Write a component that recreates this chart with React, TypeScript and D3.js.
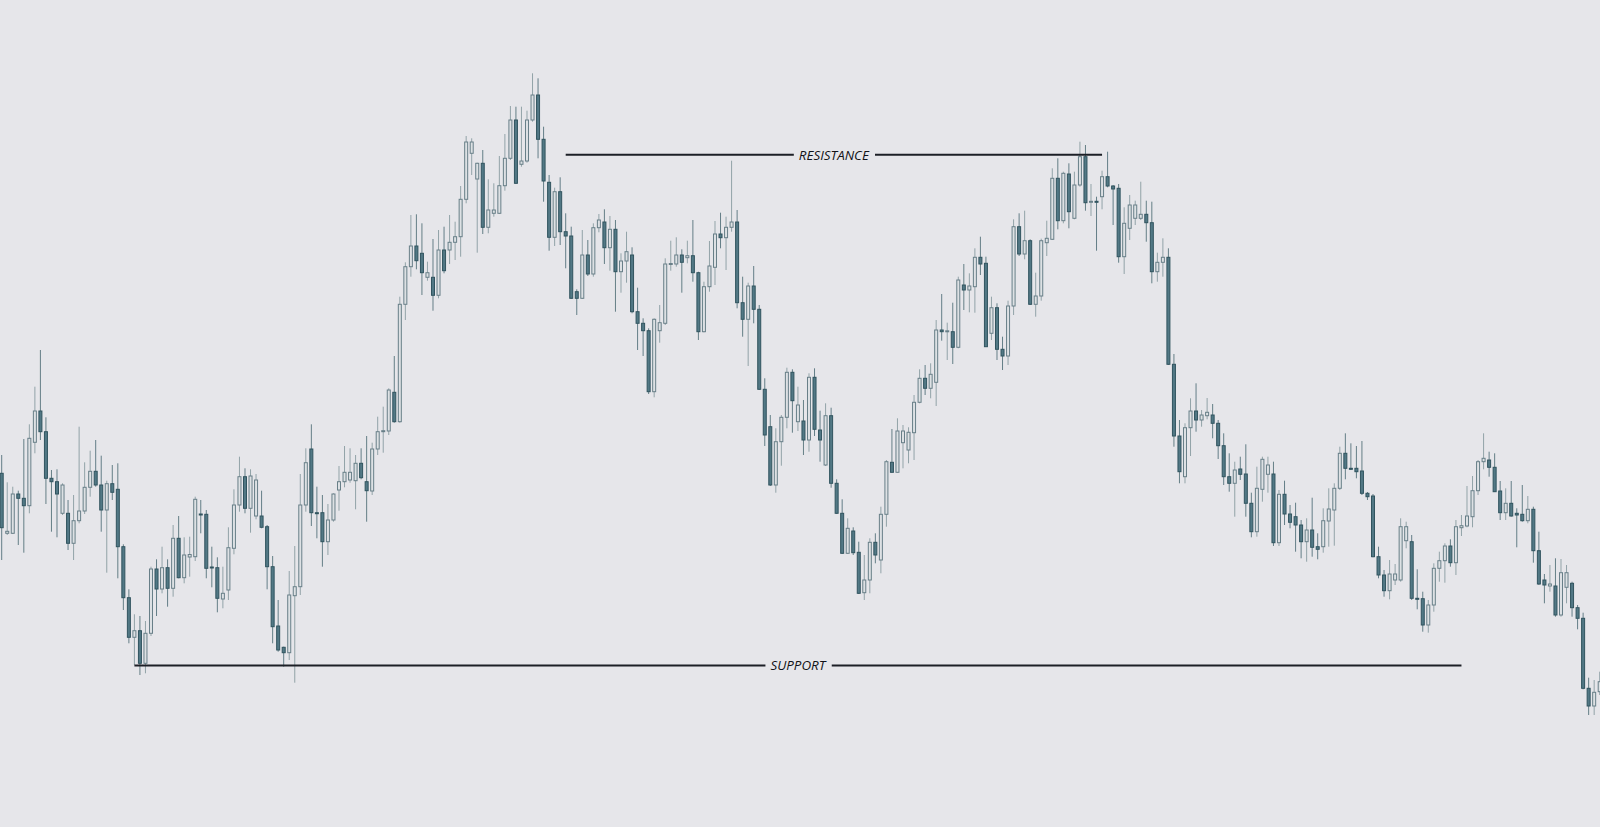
import React, { useEffect, useRef } from "react";
import * as d3 from "d3";

// Candle data (price units), index = trading session
const opens = [426.7,366.7,366.7,406,401.7,394.3,457.7,489,468.3,421.7,418.3,386.7,386.7,356.7,379.3,389,412.7,428.7,415,390,416.3,410.7,353.3,302.3,262.7,269.3,236.7,266.7,331,311,332.3,311.7,361.7,322.3,343,343.3,386,385.7,333,332.3,301,310,351.7,395,423.3,391.7,384,384,373.3,333.3,274,252.7,247.3,304.3,313.3,395,451,387.3,387.3,358.3,380,410,418.3,420,419.3,436.7,418.3,409,451,468.3,469,507.7,478.3,595.7,633.3,654,646.7,622.7,622.7,604.7,650,650,657.7,663.3,700.7,746.7,721,736.7,672.7,686.7,686.7,714.3,741.7,780,735.7,739,780,805,760.7,717.7,662.7,708.3,668.3,664,608.3,601.7,645,626,672.3,678,652.3,670.7,628.3,639,645,588.3,576.7,569.3,508.3,569.3,576.7,636,636,645,642.3,644.3,627.3,568.3,613.3,632.7,666,662.3,672.7,678,597.3,580.7,614,590.7,510.7,473.3,415,458.3,482.7,527.7,478.3,479,460,522.7,470,435,484.3,416.7,386.7,346.7,369,347.7,307.3,320,357.7,340,385.7,437.7,427.7,457.3,450,467.3,497.7,521.7,511.7,517.7,570,569,568.3,552.7,615,610,613.3,642.7,636.7,566.7,592.3,550.7,544,594,673.3,646,659.3,595.7,604,657.3,660.7,721.7,679.3,726,681.7,715,743.3,698,698.7,703.3,723.3,714,711.7,643.3,671.7,681.7,681.7,685.7,677.3,628.3,637.7,642.7,535.7,464,423.3,472.3,489,480,484.3,485,476.7,454.3,423.3,416.7,431,426,396.7,368.3,410.7,425.7,426,357.3,405.7,386,383.3,375,358.3,370,353.3,353.3,379,390,411.7,446.7,431.7,431.7,429,406.7,404,343.3,325,309.3,320,320,359.3,358.3,301.7,301.3,275,295,331.7,339.3,354,337.3,372.3,374,383.3,409.3,438.3,440,432.7,409,387.3,396.7,386.7,385.7,379.3,390.7,349.3,320,314,314,285,312.7,316.7,292.3,281.7,211.7,194,208.3];
const highs = [445,417.7,413.3,409.3,461,475.7,513.3,550,482.7,430,430.7,416.7,400,405,473.3,437.7,449.3,460,444.3,419.3,435,436.7,355.7,310.7,285.7,284,279,333.3,340.7,353.3,340.7,375,384,362.7,363.3,403.3,400,390,353.3,342.7,333.3,372.7,410.7,443.3,431.7,430.7,426,409.3,375,344,300,253.3,329,354,426,451.7,475.7,413.3,405,396,406.7,434,454,451.7,445,451.7,464,457.3,483.3,493.3,511.7,544,603.3,637.7,685,685.7,676.7,638.3,661,670,673.3,685,678.3,714,764,761.7,737.3,750,720.7,716.7,744,766,794,793.3,793.3,789.3,826.7,821.7,773.3,725,712.3,722.7,686.7,673.3,610.7,670,660,676.7,686,690.7,684,680,646.7,668.3,652.7,612.3,581.7,571.7,581.7,595,641.7,659.3,662.7,650.7,659.3,680,628.3,618.3,659,679,687.3,683.3,739.3,690,623.3,617.3,634,595,521.7,485,471.7,485,532.3,530.7,513.3,500,526.7,531.7,489.3,496.7,492.3,420.7,400.7,381.7,372.7,358.3,345,361.7,366.7,393.3,440,471,481.7,475,472.7,505,530.7,535,536.7,580,606,577.3,597.3,623.3,636,626.7,651.7,663.3,643.3,603.3,596.7,563.3,599.3,680.7,686.7,689.3,660.7,627.3,661.3,679.3,731.7,741.7,728.3,736.7,728.3,758.3,755,716,703.3,729.3,748.3,715,716,692.7,705,699.3,718.3,699.3,698.3,647.3,661.7,651.7,546,480,476.7,501.7,516.7,490,502,496,480,466.7,446.7,438.3,443.3,455.7,407.3,433.3,443.3,443.3,438.3,410,419.3,395,397.3,380,381.7,402.3,366.7,391.7,411.7,416.7,453.3,466.7,456.7,454,459,408,406,353.3,330,340,336,381.7,378.3,365,330.7,308.3,300,336.7,348.3,356.7,360.7,380,385,414,424,440,466.7,448.3,446.7,419,411.7,419,391.7,415,404,393.3,368.3,326,335,341.7,341,335,318.3,295,287.3,222.3,220,228.3];
const lows = [340,365,366,355,347.3,386.7,446.7,460,396,368.3,362.7,385,350,340,376.7,386,403.3,413.3,368.3,327.3,400,321.7,290,256.7,235,225,226.7,264,284,306.7,293.3,303.3,321.7,316.7,323.3,339,366.7,321.7,312.7,287.7,291.7,300,345.7,388.3,386.7,367.3,380.7,371.7,310.7,256.7,248.3,233.3,240,217.3,305,388.3,374,361.7,333.3,345,378.3,389.3,412.7,417.3,390.7,420.7,378.3,405,445,447.3,465,477.3,477.3,580,623.3,630.7,605,619.3,589.3,601.7,626.7,636,640,643.3,696.7,725,647.3,666,666.7,683.3,686,709.3,740,716,733.3,737.3,778.3,741.7,698.3,649.3,654,655,631.7,601,585,601,624,623.3,667.7,636,629.3,588.3,607.3,617.3,586.7,550,544,506,502.7,557.3,575,629.3,633.3,607.3,636.7,618.3,560,567.7,608.3,615,651.7,630,668.3,591.7,563.3,534,576.7,510,454,414,407.3,434.3,471.7,467.3,469,445,448.3,464,438.3,434,412.3,386,346,346,345,306,300,306.7,336.7,326.7,373.3,427.3,427.3,431.7,436.7,440,496.7,505,501.7,494,559.3,540,536,551.7,590,587.7,587.3,625,553,560,540,530,535,585,644,640.7,595,583.3,599.3,644,660,670.7,676.7,671.7,680.7,713.3,689.3,684,649.3,690.7,712.7,675,637.3,626,660,675,680,658.3,616.7,618.3,623.3,535,453.3,416.7,416.7,444,468.3,473.3,480.7,461.7,441,415,408.3,383.3,420,383.3,362.7,363.3,398.3,407.3,354,354,375,371.7,348.3,341.7,338.3,343.3,340.7,347.3,353.3,354.3,410,420.7,430,421.7,405,400,342.7,321.7,303.3,300.7,315,318.3,351.7,300,290.7,268.3,267.3,288.3,318.3,317.3,333.3,325,364,372.7,372.7,405,430.7,423.3,408,380,380,383.3,352.7,378.3,376.7,337.3,315,296.7,308.3,283.3,283.3,296.7,283.3,270.7,210.7,185,185,205];
const closes = [372.3,368.7,406,401.7,394.3,461.7,489,468.3,421.7,418.3,406,415,356.7,379.3,389,412.7,428.7,415,390,416.3,407.7,353.3,302.3,262.7,269.3,236.7,266.7,331,311,332.3,311.7,361.7,322.3,345,345.5,400.7,385,331.7,332,301.7,306.7,352.3,395,423.3,391.7,424,420,372.7,333.3,273.3,250,247.3,305,313.3,395,437.3,387.3,387,358.3,380,406,418.3,427.7,427.7,436.7,422.3,409.3,451,468.3,469.3,510,478.3,595.7,633.3,654,639.3,627.3,627.3,604.7,650,629.3,657.7,663.3,700.7,758,758,736.7,672.7,690,690,714.3,741.7,780,716.7,739,780,805,760.7,719,662.7,708.3,668.3,664,601.7,601.7,645,626,672.3,680,652.3,670.7,628.3,639,648.3,588.3,576.7,569.3,508.3,580.7,577.3,636,636.5,645,637.7,644.3,627.3,568.3,613.3,634,666,662.3,672.7,678,597.3,580.7,614,590.7,510.7,465,415,458.3,482.7,527.7,499.3,495,460,522.7,470.7,460,484.3,416.7,386.7,346.7,371.7,347.3,306.7,320,357.7,345,385.7,438.3,427.7,469,469,467.7,497.7,521.7,511.7,525.7,570,568.3,569.2,552.7,620,610,614,642.7,636,553.3,592.3,550.7,544,594,673.3,646,659.3,595.7,604,659.3,661.7,721.7,679.3,726.7,688.3,715,743.3,697.3,698.7,698,723.3,714,711,643.3,676.7,695,695,685.7,677.3,628.3,637.7,642.7,535.7,464,428.3,472.3,489,480,485,487.7,476.7,454.3,423.3,416.7,430,425.7,396.7,368.3,411.7,440.7,435,357.3,405.7,386,377.7,375,358.3,370,352.7,350.7,379.3,391,411.7,446.7,431.7,431.5,428.3,406.7,403.3,343.3,325,309.3,326,326,373.3,373.3,301.7,301.3,275,295,331.7,339.3,354,337.3,373.3,374.3,384,409.3,438.3,441.7,432.7,408.3,387.3,396.7,384,385,379.3,390.7,349.3,316,315,316,285,327.3,327.3,292.3,281.7,211.7,194,207.7,218.3];

// Horizontal levels: [label, price, fromIndex, toIndex]
const levelLabels = ["RESISTANCE", "SUPPORT"];
const levelPrices = [745.3, 234.5];
const levelFrom = [102, 24];
const levelTo = [199, 264];

const W = 1600;
const H = 827;
const BG = "#e6e6ea";

export default function App() {
  const ref = useRef<SVGSVGElement | null>(null);

  useEffect(() => {
    const svg = d3.select(ref.current);
    svg.selectAll("*").remove();

    const n = opens.length;
    const candles = d3.range(n).map((i) => ({
      i,
      o: opens[i],
      h: highs[i],
      l: lows[i],
      c: closes[i],
    }));

    const x = d3.scaleLinear().domain([0, n - 1]).range([1.7, 1599.7]);
    const y = d3.scaleLinear().domain([150, 850]).range([750, 50]);

    svg.append("rect").attr("width", W).attr("height", H).attr("fill", BG);

    const g = svg.append("g");

    // wicks
    g.selectAll("line.wick")
      .data(candles)
      .join("line")
      .attr("class", "wick")
      .attr("x1", (d) => x(d.i))
      .attr("x2", (d) => x(d.i))
      .attr("y1", (d) => y(d.h))
      .attr("y2", (d) => y(d.l))
      .attr("stroke", (d) => (d.c < d.o ? "#4d6c76" : "#83969c"))
      .attr("stroke-opacity", 0.85)
      .attr("stroke-width", 1);

    const bw = 3;
    g.selectAll("rect.body")
      .data(candles)
      .join("rect")
      .attr("class", "body")
      .attr("x", (d) => x(d.i) - bw / 2)
      .attr("width", bw)
      .attr("y", (d) => y(Math.max(d.o, d.c)))
      .attr("height", (d) => Math.max(1, Math.abs(y(d.o) - y(d.c))))
      .attr("fill", (d) => (d.c < d.o ? "#527885" : "#dde1e4"))
      .attr("stroke", (d) => (d.c < d.o ? "#31545f" : "#687f88"))
      .attr("stroke-width", 1);

    // levels
    levelLabels.forEach((label, k) => {
      const yy = y(levelPrices[k]);
      const x1 = x(levelFrom[k]);
      const x2 = x(levelTo[k]);
      const lg = svg.append("g");
      lg.append("line")
        .attr("x1", x1)
        .attr("x2", x2)
        .attr("y1", yy)
        .attr("y2", yy)
        .attr("stroke", "#1c1f26")
        .attr("stroke-width", 2);
      const bgRect = lg.append("rect").attr("fill", BG);
      const t = lg
        .append("text")
        .attr("x", (x1 + x2) / 2)
        .attr("y", yy + 4.8)
        .attr("text-anchor", "middle")
        .attr("font-family", "'Open Sans', 'Noto Sans', sans-serif")
        .attr("font-style", "italic")
        .attr("font-size", 13.4)
        .attr("fill", "#111318")
        .text(label);
      const bb = (t.node() as SVGTextElement).getBBox();
      bgRect
        .attr("x", bb.x - 5)
        .attr("y", yy - 3)
        .attr("width", bb.width + 10)
        .attr("height", 6);
    });
  }, []);

  return (
    <div style={{ position: "fixed", left: 0, top: 0, width: W, height: H, background: BG }}>
      <svg ref={ref} width={W} height={H} style={{ display: "block" }} />
    </div>
  );
}
